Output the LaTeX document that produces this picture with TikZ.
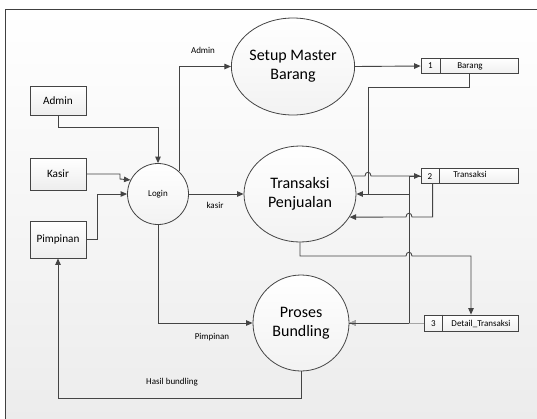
\documentclass[tikz,border=0pt]{standalone}
\usepackage{fontspec}
\setmainfont{Carlito}
\usetikzlibrary{arrows.meta,calc,shapes.geometric}
\definecolor{ln}{HTML}{444444}
\tikzset{
  ent/.style={draw=ln, line width=0.8pt, top color=white, bottom color=gray!14, minimum width=56pt, inner sep=0pt, font=\fontsize{11.2}{13}\selectfont},
  proc/.style={draw=ln, line width=0.8pt, ellipse, top color=white, bottom color=gray!10, inner sep=0pt, align=center, font=\fontsize{16}{19}\selectfont},
  storebox/.style={draw=ln, line width=0.8pt, top color=white, bottom color=gray!12, minimum height=15pt, inner sep=0pt},
  small/.style={font=\fontsize{9}{10}\selectfont, inner sep=0pt},
  stxt/.style={font=\fontsize{9}{10}\selectfont, inner sep=0pt},
  flow/.style={draw=ln, line width=0.9pt, -{Triangle[length=6.5pt,width=5.5pt]}},
  plain/.style={draw=ln, line width=0.9pt}
}
\begin{document}
\begin{tikzpicture}[x=1pt,y=-1pt]
\path[use as bounding box, clip] (0,0) rectangle (537,418);
\fill[top color=white, bottom color=gray!15] (5,9) rectangle (545,425);
\draw[line width=0.9pt, draw=gray!50!black] (5,425) -- (5,9) -- (545,9);

% external entities
\node[ent, minimum height=29pt] (admin) at (58,100.5) {Admin};
\node[ent, minimum height=32pt] (kasir) at (58,174) {Kasir};
\node[ent, minimum height=37pt] (pimpinan) at (58,239.5) {Pimpinan};

% processes
\node[draw=ln, line width=0.8pt, circle, top color=white, bottom color=gray!10, minimum size=61pt, inner sep=0pt, small] (login) at (158,194) {Login};
\node[proc, minimum width=114pt, minimum height=97pt] (setup) at (293,66.5) {Setup Master\\Barang};
\node[proc, minimum width=112pt, minimum height=96pt] (trans) at (300,194) {Transaksi\\Penjualan};
\node[proc, minimum width=96pt, minimum height=96pt] (bund) at (301,323) {Proses\\Bundling};

% data stores
\node[storebox, minimum width=97pt] (s1) at (469.5,66) {};
\node[storebox, minimum width=97pt] (s2) at (469.5,176) {};
\node[storebox, minimum width=94pt, minimum height=16pt] (s3) at (471,323) {};
\draw[draw=ln, line width=0.8pt] ($(s1.north west)+(20,0)$) -- ($(s1.south west)+(20,0)$);
\draw[draw=ln, line width=0.8pt] ($(s2.north west)+(19,0)$) -- ($(s2.south west)+(19,0)$);
\draw[draw=ln, line width=0.8pt] ($(s3.north west)+(19,0)$) -- ($(s3.south west)+(19,0)$);
\node[stxt] (n1) at (430.5,66) {1};
\node[stxt] (l1) at (470,66) {Barang};
\node[stxt] (n2) at (430,177) {2};
\node[stxt] (l2) at (470,174.5) {Transaksi};
\node[stxt] (n3) at (433.5,324) {3};
\node[stxt] (l3) at (481,324) {Detail\_Transaksi};

% flow labels
\node[small] (ladmin) at (203,50) {Admin};
\node[small] (lkasir) at (215,205) {kasir};
\node[small] (lpim) at (212,337) {Pimpinan};
\node[small] (lhasil) at (172,382) {Hasil bundling};

% entity -> login
\draw[flow] (admin.south) -- ++(0,12) -| (login.north);
\draw[flow] (kasir.east) -- (120,174) -- (120,179) -- (login.153);
\draw[flow] (pimpinan.east) -- ++(11,0) |- (login.west);

% login -> processes
\draw[flow] (login.47) |- (setup.west);
\draw[flow] (login.east) -- (trans.west);
\draw[flow] (login.south) |- (bund.west);

% bundling -> pimpinan
\draw[flow] (bund.south) -- ++(0,27) -| (pimpinan.south);

% setup -> store 1
\draw[flow] (setup.east) -- (s1.west);

% store 1 -> transaksi
\draw[flow] (s1.south) |- (368,87) -- (368,194) -- (trans.east);

% transaksi -> store 2 (hop over x=368)
\draw[flow] (trans.19) -- (365,176) .. controls (365,171) and (371,171) .. (371,176) -- (s2.west);

% store 2 -> bundling via x=409
\draw[flow] (s2.west) -- (409,176) -- (409,323) -- (bund.east);
\draw[plain] (409,194) -- (368,194);
\draw[flow, draw=gray!70] (s3.west) -- (bund.east);
\draw[plain] (409,323) -- (bund.east);

% store 2 -> transaksi (hop over x=409)
\draw[flow] ($(s2.south west)+(12,0)$) |- (412,217) .. controls (412,212) and (406,212) .. (406,217) -- (trans.-25);

% transaksi -> store 3 (hop over x=409)
\draw[flow] (trans.south) |- (406,256) .. controls (406,251) and (412,251) .. (412,256) -| (s3.north);
\end{tikzpicture}
\end{document}
